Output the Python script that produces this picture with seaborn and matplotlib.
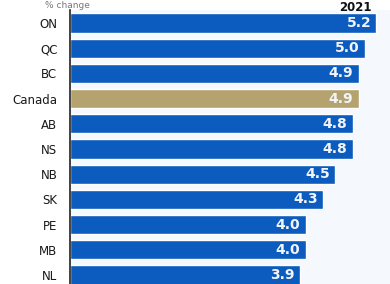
import matplotlib.pyplot as plt
import pandas as pd
import seaborn as sns

provinces = ["ON", "QC", "BC", "Canada", "AB", "NS", "NB", "SK", "PE", "MB", "NL"]
change_2021 = [5.2, 5.0, 4.9, 4.9, 4.8, 4.8, 4.5, 4.3, 4.0, 4.0, 3.9]

BLUE = "#0b5cbe"
TAN = "#b5a36f"

df = pd.DataFrame({"region": provinces, "change": change_2021})
df["kind"] = ["national" if r == "Canada" else "province" for r in df["region"]]

sns.set_style("white")
fig = plt.figure(figsize=(3.9, 2.84), dpi=100)
fig.patch.set_facecolor("white")
ax = fig.add_axes([70 / 390, 0.0, 1 - 70 / 390, 274 / 284])
ax.set_facecolor("#f5f8fd")

sns.barplot(
    data=df, x="change", y="region", hue="kind",
    palette={"province": BLUE, "national": TAN},
    width=0.76, dodge=False, legend=False, ax=ax, saturation=1,
)

for i, v in enumerate(df["change"]):
    ax.text(v - 0.09, i, f"{v:.1f}", ha="right", va="center",
            color="#f2f4f8", fontsize=10, fontweight="bold")

ax.set_xlim(0, 5.43)
ax.set_ylim(10.357, -0.516)
ax.set_xlabel("")
ax.set_ylabel("")
ax.set_xticks([])
ax.tick_params(axis="y", length=0, pad=9, labelsize=8.5, labelcolor="#1a1a1a")
for side in ["top", "right", "bottom"]:
    ax.spines[side].set_visible(False)
ax.spines["left"].set_color("#222222")
ax.spines["left"].set_linewidth(1.2)

# headings squeezed into the strip above the first bar
fig.text(45 / 390, 1 - 1 / 284, "% change", color="#777777", fontsize=6.5,
         va="top", ha="left")
fig.text(372 / 390, 1 - 1 / 284, "2021", color="#111111", fontsize=8.5,
         fontweight="bold", va="top", ha="right")

fig.savefig("out.png", dpi=100)
